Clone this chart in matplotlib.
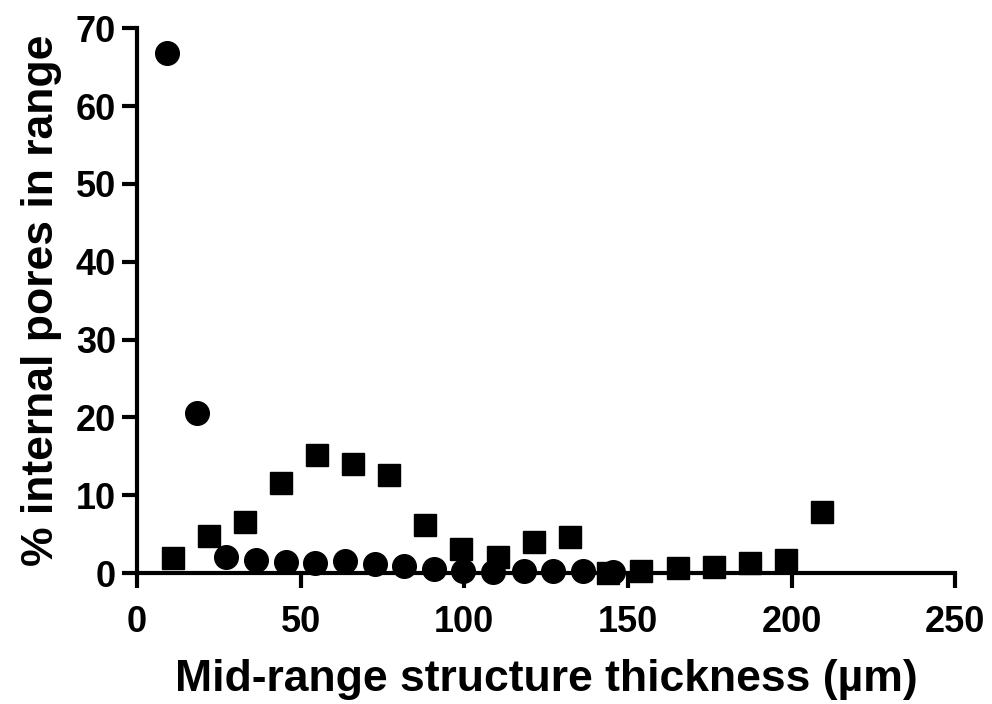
import matplotlib
matplotlib.use("Agg")
from matplotlib import pyplot as plt

# Mid-range structure thickness (um) and % of internal pores in each range
circle_x = [9.2, 18.3, 27.3, 36.3, 45.4, 54.5, 63.5, 72.7, 81.5, 90.7,
            99.7, 108.9, 118.1, 127.0, 136.2, 145.4]
circle_y = [66.8, 20.6, 2.1, 1.7, 1.45, 1.3, 1.6, 1.2, 0.9, 0.5,
            0.25, 0.15, 0.25, 0.25, 0.3, 0.1]

square_x = [11.1, 22.1, 33.0, 44.1, 55.1, 66.0, 76.9, 88.0, 99.0, 110.2,
            121.3, 132.2, 143.8, 154.0, 165.2, 176.2, 187.2, 198.2, 209.3]
square_y = [1.9, 4.7, 6.5, 11.6, 15.2, 14.0, 12.6, 6.2, 3.1, 2.1,
            4.0, 4.6, 0.0, 0.3, 0.6, 0.75, 1.3, 1.7, 7.8]

x_ticks = [0, 50, 100, 150, 200, 250]
y_ticks = [0, 10, 20, 30, 40, 50, 60, 70]

plt.rcParams["font.family"] = ["Liberation Sans", "DejaVu Sans"]
plt.rcParams["font.weight"] = "bold"

fig = plt.figure(figsize=(9.92, 7.04), dpi=100)
ax = fig.add_axes([0.138, 0.186, 0.825, 0.774])

ax.plot(circle_x, circle_y, "ko", markersize=17, linestyle="none",
        clip_on=False, zorder=3)
ax.plot(square_x, square_y, "ks", markersize=16.5, linestyle="none",
        clip_on=False, zorder=4)

ax.set_xlim(0, 250)
ax.set_ylim(0, 70)
ax.set_xticks(x_ticks)
ax.set_yticks(y_ticks)

for side in ["top", "right"]:
    ax.spines[side].set_visible(False)
for side in ["left", "bottom"]:
    ax.spines[side].set_linewidth(3)
ax.tick_params(width=3, length=11, labelsize=26)
ax.tick_params(axis="x", pad=12)
ax.tick_params(axis="y", pad=4)
for lab in ax.get_xticklabels() + ax.get_yticklabels():
    lab.set_fontweight("bold")

ax.set_xlabel("Mid-range structure thickness (µm)", fontsize=32,
              fontweight="bold", labelpad=14)
ax.set_ylabel("% internal pores in range", fontsize=32,
              fontweight="bold", labelpad=10)

fig.savefig("out.png", dpi=100)
